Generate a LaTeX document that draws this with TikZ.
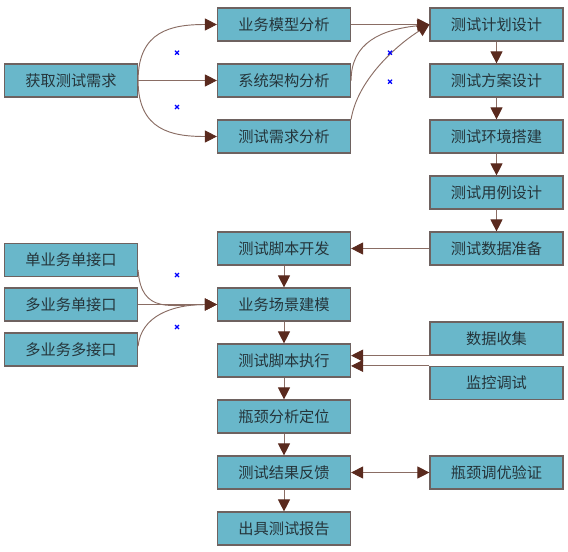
\documentclass[tikz,border=0pt]{standalone}
\usepackage{fontspec}
\setmainfont{Noto Sans CJK SC}
\usetikzlibrary{arrows.meta,positioning}
\definecolor{boxfill}{HTML}{69B7CA}
\definecolor{boxline}{HTML}{6E6260}
\definecolor{boxtext}{HTML}{25353B}
\definecolor{linkline}{HTML}{8A6D64}
\definecolor{tipcol}{HTML}{5A2A1E}
\tikzset{
  box/.style={draw=boxline, line width=1pt, fill=boxfill, text=boxtext,
    minimum width=3.99cm, minimum height=0.99cm, inner sep=0pt,
    font=\fontsize{13}{15}\selectfont},
  tiphead/.tip={Triangle[length=0.36cm,width=0.36cm,color=tipcol,fill=tipcol]},
  link/.style={draw=linkline, line width=0.8pt, -tiphead},
  twoway/.style={draw=linkline, line width=0.8pt, tiphead-tiphead},
  handle/.style={draw=blue, line width=1pt}
}

\begin{document}
\begin{tikzpicture}[x=0.03cm, y=-0.03cm]
\useasboundingbox (0,0) rectangle (568,551);

% Left column
\node[box] (need) at (71,80.5) {获取测试需求};
\foreach \name/\y/\txt in {single/260/单业务单接口, multi/304.5/多业务单接口, multimulti/349.5/多业务多接口}
  \node[box] (\name) at (71,\y) {\txt};

% Middle column
\foreach \name/\y/\txt in {model/24.5/业务模型分析, arch/80.5/系统架构分析, reqa/136.5/测试需求分析,
    dev/248.5/测试脚本开发, scene/304.5/业务场景建模, exec/360.5/测试脚本执行,
    locate/416.5/瓶颈分析定位, feedback/472.5/测试结果反馈, report/528.5/出具测试报告}
  \node[box] (\name) at (284,\y) {\txt};

% Right column
\foreach \name/\y/\txt in {plan/24.5/测试计划设计, scheme/80.5/测试方案设计, env/136.5/测试环境搭建,
    case/192.5/测试用例设计, data/248.5/测试数据准备, collect/338.5/数据收集,
    monitor/383/监控调试, tune/472.5/瓶颈调优验证}
  \node[box] (\name) at (496.5,\y) {\txt};

% Requirement analysis
\draw[link] (need.east) .. controls +(0,-50) and +(-45,0) .. (model.west);
\draw[link] (need.east) -- (arch.west);
\draw[link] (need.east) .. controls +(0,50) and +(-45,0) .. (reqa.west);

% Into test plan
\draw[link] (model.east) -- (plan.west);
\draw[link] (arch.east) .. controls +(0,-38) and +(-48,5) .. (plan.west);
\draw[link] (reqa.north east) .. controls +(6,-38) and +(-35,22) .. (plan.west);

% Right column down
\foreach \a/\b in {plan/scheme, scheme/env, env/case, case/data}
  \draw[link] (\a) -- (\b);
\draw[link] (data.west) -- (dev.east);

% Middle column down
\foreach \a/\b in {dev/scene, scene/exec, exec/locate, locate/feedback, feedback/report}
  \draw[link] (\a) -- (\b);

% Interfaces
\draw[link] ([yshift=-0.3cm]single.east) .. controls +(3,45) and +(-45,0) .. (scene.west);
\draw[link] (multi.east) -- (scene.west);
\draw[link] ([yshift=0.1cm]multimulti.east) .. controls +(3,-30) and +(-45,0) .. (scene.west);

% Monitoring
\draw[link] (collect.south west) -- (collect.south west -| exec.east);
\draw[link] (monitor.north west) -- (monitor.north west -| exec.east);
\draw[twoway] (feedback.east) -- (tune.west);

% Handles
\foreach \hx/\hy in {177/52.7, 177/107, 390/52.7, 390/81.7, 177/275, 177/327}
  \draw[handle] (\hx-2,\hy-2) -- (\hx+2,\hy+2) (\hx-2,\hy+2) -- (\hx+2,\hy-2);

\end{tikzpicture}
\end{document}
